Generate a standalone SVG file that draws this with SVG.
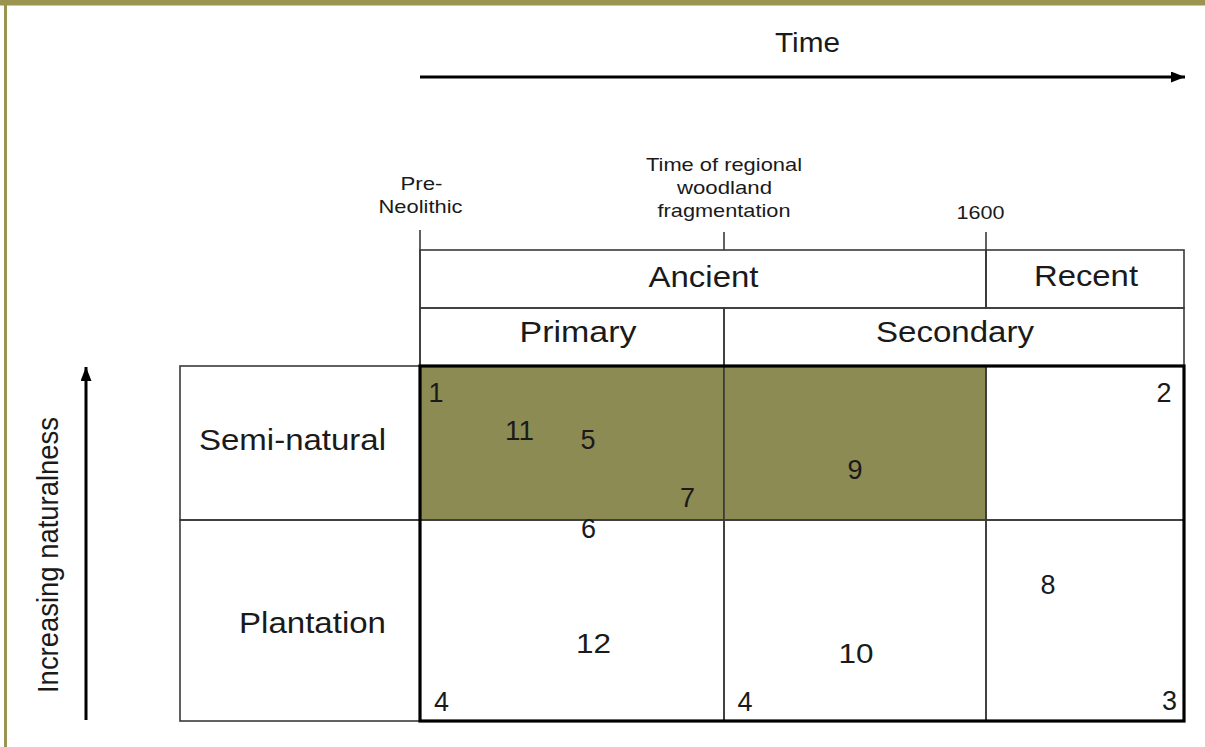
<svg xmlns="http://www.w3.org/2000/svg" width="1205" height="747" viewBox="0 0 1205 747">
<style>
text{font-family:"Liberation Sans",Arial,Helvetica,sans-serif;fill:#1a1a1a;text-anchor:middle}
.sm{font-size:19px}
.lg{font-size:29px}
.num{font-size:27px}
.thin{stroke:#3a3a3a;stroke-width:1.6;fill:none}
.thick{stroke:#000;stroke-width:3.2;fill:none}
.arrow{stroke:#000;stroke-width:3;fill:none}
</style>
<defs>
<marker id="ah" markerUnits="userSpaceOnUse" markerWidth="14" markerHeight="11" refX="14" refY="5.5" orient="auto">
<path d="M0,0 L14,5.5 L0,11 z" fill="#000"/>
</marker>
</defs>
<rect x="0" y="0" width="1205" height="747" fill="#fff"/>
<g id="frame">
<rect x="0" y="0" width="1205" height="5.5" fill="#9a9450"/>
<rect x="4" y="0" width="3" height="747" fill="#9a9450"/>
</g>
<g id="connectors">
<line class="arrow" x1="420" y1="77" x2="1185" y2="77" marker-end="url(#ah)"/>
<line class="arrow" x1="86" y1="720" x2="86" y2="367" marker-end="url(#ah)"/>
</g>
<g id="time-label"><text x="807.5" y="52" style="font-size:27px" textLength="65" lengthAdjust="spacingAndGlyphs">Time</text></g>
<g id="naturalness-label"><text transform="translate(58,555) rotate(-90)" x="0" y="0" style="font-size:30px" textLength="276" lengthAdjust="spacingAndGlyphs">Increasing naturalness</text></g>
<g id="timeline">
<line class="thin" x1="420" y1="230" x2="420" y2="366"/>
<line class="thin" x1="724" y1="232" x2="724" y2="250"/>
<line class="thin" x1="986" y1="232" x2="986" y2="308"/>
<text class="sm" x="421.5" y="190" textLength="42" lengthAdjust="spacingAndGlyphs">Pre-</text>
<text class="sm" x="420.5" y="213" textLength="84" lengthAdjust="spacingAndGlyphs">Neolithic</text>
<text class="sm" x="724" y="171" textLength="156" lengthAdjust="spacingAndGlyphs">Time of regional</text>
<text class="sm" x="724.5" y="194" textLength="95" lengthAdjust="spacingAndGlyphs">woodland</text>
<text class="sm" x="724" y="217" textLength="133" lengthAdjust="spacingAndGlyphs">fragmentation</text>
<text class="sm" x="980.5" y="219" textLength="48" lengthAdjust="spacingAndGlyphs">1600</text>
</g>
<g id="ancient">
<rect class="thin" x="420" y="250" width="566" height="58"/>
<text class="lg" x="703.5" y="287" textLength="110" lengthAdjust="spacingAndGlyphs">Ancient</text>
</g>
<g id="recent">
<rect class="thin" x="986" y="250" width="198" height="58"/>
<text class="lg" x="1086" y="286" textLength="104" lengthAdjust="spacingAndGlyphs">Recent</text>
</g>
<g id="primary">
<rect class="thin" x="420" y="308" width="304" height="58"/>
<text class="lg" x="578" y="342" textLength="117" lengthAdjust="spacingAndGlyphs">Primary</text>
</g>
<g id="secondary">
<rect class="thin" x="724" y="308" width="460" height="58"/>
<text class="lg" x="955" y="342" textLength="158" lengthAdjust="spacingAndGlyphs">Secondary</text>
</g>
<g id="semi-natural-label">
<rect class="thin" x="180" y="366" width="240" height="154"/>
<text class="lg" x="292.5" y="450" textLength="187" lengthAdjust="spacingAndGlyphs">Semi-natural</text>
</g>
<g id="plantation-label">
<rect class="thin" x="180" y="520" width="240" height="201"/>
<text class="lg" x="312.5" y="633" textLength="147" lengthAdjust="spacingAndGlyphs">Plantation</text>
</g>
<g id="semi-primary">
<rect x="420" y="366" width="304" height="154" fill="#8c8b53" stroke="#3a3a3a" stroke-width="1.6"/>
</g>
<g id="semi-secondary">
<rect x="724" y="366" width="262" height="154" fill="#8c8b53" stroke="#3a3a3a" stroke-width="1.6"/>
</g>
<g id="semi-recent">
<rect class="thin" x="986" y="366" width="198" height="154"/>
</g>
<g id="plant-primary">
<rect class="thin" x="420" y="520" width="304" height="201"/>
</g>
<g id="plant-secondary">
<rect class="thin" x="724" y="520" width="262" height="201"/>
</g>
<g id="plant-recent">
<rect class="thin" x="986" y="520" width="198" height="201"/>
</g>
<g id="grid-outline">
<rect class="thick" x="420" y="366" width="764" height="355"/>
</g>
<g id="numbers">
<text class="num" x="436" y="402">1</text>
<text class="num" x="519.5" y="440" textLength="29" lengthAdjust="spacingAndGlyphs">11</text>
<text class="num" x="588" y="449">5</text>
<text class="num" x="687.5" y="507">7</text>
<text class="num" x="588.5" y="538">6</text>
<text class="num" x="855" y="479">9</text>
<text class="num" x="1164" y="402">2</text>
<text class="num" x="593.5" y="653" textLength="35" lengthAdjust="spacingAndGlyphs">12</text>
<text class="num" x="856" y="663" textLength="35" lengthAdjust="spacingAndGlyphs">10</text>
<text class="num" x="1048" y="594">8</text>
<text class="num" x="441.5" y="711">4</text>
<text class="num" x="745" y="711">4</text>
<text class="num" x="1169.5" y="710">3</text>
</g>
</svg>
